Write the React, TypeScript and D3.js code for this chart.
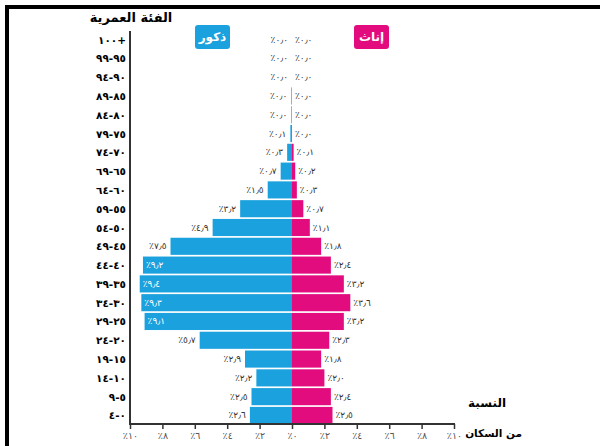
import React, { useEffect, useRef } from "react";
import { select, axisBottom, scaleLinear, scaleBand } from "d3";

// age groups top -> bottom, written in display order
const ageGroups = [
  "١٠٠+", "٩٩-٩٥", "٩٤-٩٠", "٨٩-٨٥", "٨٤-٨٠", "٧٩-٧٥", "٧٤-٧٠",
  "٦٩-٦٥", "٦٤-٦٠", "٥٩-٥٥", "٥٤-٥٠", "٤٩-٤٥", "٤٤-٤٠", "٣٩-٣٥",
  "٣٤-٣٠", "٢٩-٢٥", "٢٤-٢٠", "١٩-١٥", "١٤-١٠", "٩-٥", "٤-٠",
];
const males = [
  0.0, 0.0, 0.0, 0.04, 0.04, 0.1, 0.3, 0.7, 1.5, 3.2, 4.9, 7.5, 9.2, 9.4,
  9.3, 9.1, 5.7, 2.9, 2.2, 2.5, 2.6,
];
const females = [
  0.0, 0.0, 0.0, 0.0, 0.0, 0.0, 0.1, 0.2, 0.3, 0.7, 1.1, 1.8, 2.4, 3.2,
  3.6, 3.2, 2.3, 1.8, 2.0, 2.4, 2.5,
];
const pctTicks = [-10, -8, -6, -4, -2, 0, 2, 4, 6, 8, 10];

const BLUE = "#1ba1dd";
const PINK = "#e20c7f";
const AR_FONT = "'DejaVu Sans', sans-serif";

const toArabic = (s: string) =>
  s.replace(/[0-9]/g, (d) => "٠١٢٣٤٥٦٧٨٩"[+d]).replace(".", "٫");
const pct = (v: number) => "٪" + toArabic(v.toFixed(1));

const W = 600;
const H = 446;
const ltr = { unicodeBidi: "bidi-override", direction: "ltr" } as any;

export default function App() {
  const axisRef = useRef<SVGGElement>(null);

  const x = scaleLinear().domain([-10, 10]).range([130, 454]);
  const y = scaleBand<string>().domain(ageGroups).range([31, 424]).paddingInner(0.09);
  const bw = y.bandwidth();
  const x0 = x(0);

  useEffect(() => {
    const g = select(axisRef.current);
    const axis = axisBottom(x)
      .tickValues(pctTicks)
      .tickSize(5)
      .tickPadding(3)
      .tickFormat((d: any) => "٪" + toArabic(String(Math.abs(d))));
    g.call(axis as any);
    g.select(".domain").remove();
    g.selectAll(".tick line").attr("stroke", "#333").attr("stroke-width", 1.5);
    g.selectAll(".tick text")
      .attr("font-family", AR_FONT)
      .attr("font-size", 9.5)
      .attr("fill", "#555")
      .style("unicode-bidi", "bidi-override")
      .style("direction", "ltr");
  }, []);

  return (
    <div style={{ position: "absolute", left: 0, top: 0 }}>
      <svg width={W} height={H} style={{ display: "block", background: "#fff" }}>
        {/* frame */}
        <rect x={5} y={5} width={W - 5} height={4} fill="#000" />
        <rect x={5} y={5} width={4} height={H - 5} fill="#000" />

        <text x={131} y={22} textAnchor="middle" fontFamily={AR_FONT} fontWeight="bold" fontSize={13}>
          الفئة العمرية
        </text>

        {/* legend */}
        <rect x={195} y={25} width={35} height={24} rx={3} fill={BLUE} />
        <text x={212.5} y={37} textAnchor="middle" dominantBaseline="central" fill="#fff"
          fontFamily={AR_FONT} fontWeight="bold" fontSize={12}>ذكور</text>
        <rect x={354} y={25} width={35} height={24} rx={3} fill={PINK} />
        <text x={371.5} y={37} textAnchor="middle" dominantBaseline="central" fill="#fff"
          fontFamily={AR_FONT} fontWeight="bold" fontSize={12}>إناث</text>

        {/* bars */}
        {ageGroups.map((a, i) => (
          <g key={a}>
            <rect x={x(-males[i])} y={y(a)} width={x0 - x(-males[i])} height={bw} fill={BLUE} />
            <rect x={x0} y={y(a)} width={x(females[i]) - x0} height={bw} fill={PINK} />
          </g>
        ))}

        {/* value labels */}
        {ageGroups.map((a, i) => {
          const cy = (y(a) as number) + bw / 2;
          const inside = males[i] >= 9;
          return (
            <g key={"l" + a} fontFamily={AR_FONT} fontSize={9}>
              <text
                x={inside ? x(-males[i]) + 3 : x(-males[i]) - 4}
                y={cy}
                dominantBaseline="central"
                textAnchor={inside ? "start" : "end"}
                fill={inside ? "#fff" : "#333"}
                style={ltr}
              >
                {pct(males[i])}
              </text>
              <text x={x(females[i]) + 3} y={cy} dominantBaseline="central" fill="#333" style={ltr}>
                {pct(females[i])}
              </text>
            </g>
          );
        })}

        {/* age labels */}
        {ageGroups.map((a) => (
          <text key={"a" + a} x={126} y={(y(a) as number) + bw / 2} dominantBaseline="central"
            textAnchor="end" fontFamily={AR_FONT} fontWeight="bold" fontSize={10.5} style={ltr}>
            {a}
          </text>
        ))}

        {/* axes */}
        <line x1={130} x2={130} y1={31} y2={425} stroke="#333" strokeWidth={2} />
        <line x1={129} x2={455} y1={424} y2={424} stroke="#333" strokeWidth={2} />
        <g ref={axisRef} transform="translate(0,424)" />

        <text x={506} y={407} textAnchor="end" fontFamily={AR_FONT} fontWeight="bold" fontSize={12}>
          النسبة
        </text>
        <text x={522} y={437} textAnchor="end" fontFamily={AR_FONT} fontWeight="bold" fontSize={10.5}>
          من السكان
        </text>
      </svg>
    </div>
  );
}
